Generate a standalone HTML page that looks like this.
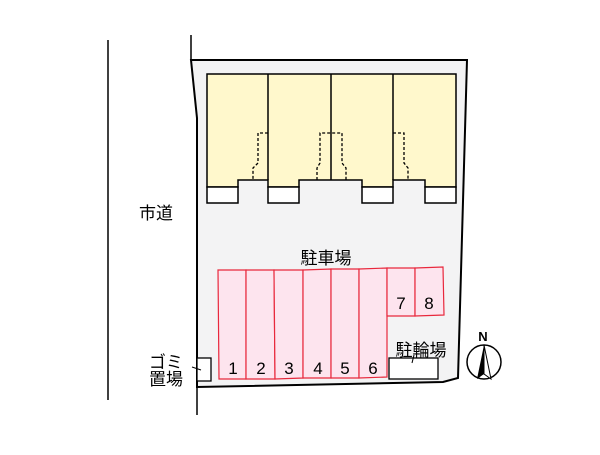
<!DOCTYPE html><html><head><meta charset="utf-8"><style>body{margin:0;background:#fff}</style></head><body>
<svg width="600" height="450" xmlns="http://www.w3.org/2000/svg" font-family="Liberation Sans, Noto Sans CJK JP, sans-serif">
<line x1="108" y1="40" x2="108" y2="400" stroke="#000" stroke-width="1.5"/>
<line x1="191" y1="35" x2="191" y2="60" stroke="#000" stroke-width="1.5"/>
<polygon points="191,60 467,60 458,378 443,382 197,387 197,118" fill="#f3f3f4" stroke="#000" stroke-width="2"/>
<line x1="197" y1="387" x2="197" y2="415" stroke="#000" stroke-width="1.5"/>
<polygon points="207,74 456,74 456,187 425,187 425,180 393,180 393,187 362,187 362,180 299,180 299,187 268,187 268,180 238,180 238,187 207,187" fill="#fff8cc" stroke="#000" stroke-width="1.5"/>
<g fill="#fff" stroke="#000" stroke-width="1.5">
<rect x="207" y="187" width="31" height="16"/><rect x="268" y="187" width="31" height="16"/><rect x="362" y="187" width="31" height="16"/><rect x="425" y="187" width="31" height="16"/></g>
<g stroke="#000" stroke-width="1.5"><line x1="268" y1="74" x2="268" y2="180"/><line x1="331" y1="74" x2="331" y2="180"/><line x1="393" y1="74" x2="393" y2="180"/></g>
<g fill="none" stroke="#000" stroke-width="1.3" stroke-dasharray="3,2">
<polyline points="268,133 258,133 258,163 253,168 253,180"/>
<polyline points="317,180 317,168 320,163 320,133 342,133 342,163 346,168 346,180"/>
<polyline points="393,133 404,133 404,163 408,168 408,180"/></g>
<g fill="#fde4ee" stroke="#e8283c" stroke-width="1.2">
<polygon points="218,270 246,270 246,379 219,379"/>
<polygon points="246,270 274,270 275,379 246,379"/>
<polygon points="274,270 303,270 303,378 275,379"/>
<polygon points="303,270 331,269 331,378 303,378"/>
<polygon points="331,269 359,269 359,378 331,378"/>
<polygon points="359,269 387,268 387,377 359,378"/>
<polygon points="387,268 415,268 415,316 387,316"/>
<polygon points="415,268 443,267 444,315 415,316"/></g>
<rect x="389" y="358" width="49" height="21" fill="#fff" stroke="#000" stroke-width="1.3"/>
<line x1="412" y1="363" x2="414" y2="355" stroke="#000"/>
<rect x="197" y="358" width="14" height="23" fill="#fff" stroke="#000" stroke-width="1.3"/>
<line x1="192" y1="367" x2="201" y2="370" stroke="#000"/>
<g font-size="17" fill="#000" text-anchor="middle">
<text x="233" y="374">1</text><text x="261" y="374">2</text><text x="289" y="374">3</text><text x="318" y="374">4</text><text x="345" y="374">5</text><text x="373" y="374">6</text>
<text x="401" y="309">7</text><text x="429" y="309">8</text>
<text x="326" y="264">駐車場</text><text x="156" y="219">市道</text><text x="421" y="356">駐輪場</text>
<text x="166" y="368">ゴミ</text><text x="166" y="385">置場</text>
<text x="483" y="341" font-size="13" font-weight="bold">N</text></g>
<circle cx="484" cy="362" r="17" fill="#fff" stroke="#000" stroke-width="1.5"/>
<polygon points="484,345 477,379 484,374 491,379" fill="#000"/>
<polygon points="484,345 484,374 491,379" fill="#fff" stroke="#000"/>
</svg></body></html>
